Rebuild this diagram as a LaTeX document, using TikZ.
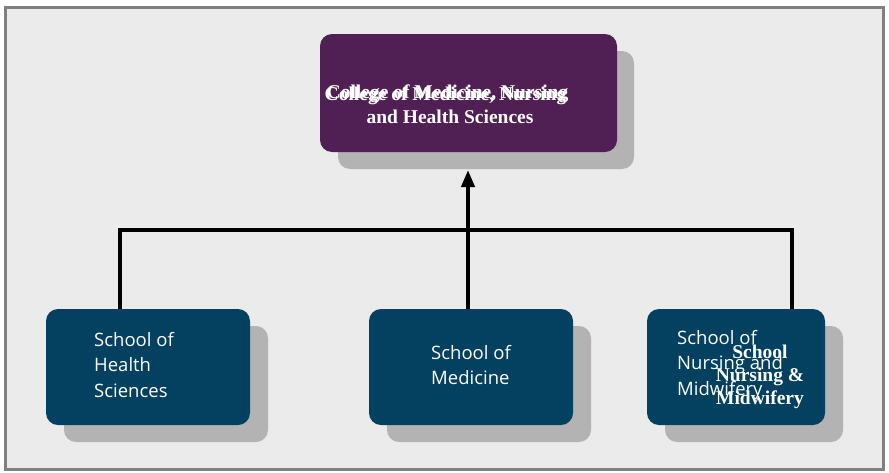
\documentclass[tikz,border=0pt]{standalone}
\usepackage{fontspec}
\setmainfont{Liberation Serif}
\newfontfamily\opensans{Open Sans}
\usetikzlibrary{arrows.meta}
\definecolor{bgc}{HTML}{EBEBEB}
\definecolor{framec}{HTML}{808080}
\definecolor{purplec}{HTML}{501F53}
\definecolor{bluec}{HTML}{04405F}
\definecolor{shadowc}{HTML}{B3B3B3}
\tikzset{
  box/.style={rounded corners=12pt, inner sep=0pt, draw=none},
  topbox/.style={box, fill=purplec},
  schoolbox/.style={box, fill=bluec, minimum height=116pt},
  sanstext/.style={text=white, font=\opensans\fontsize{18.5}{25.5}\selectfont, align=left, inner sep=0pt},
  serifbold/.style={text=white, font=\bfseries\fontsize{19.5}{21}\selectfont, align=center, inner sep=0pt},
  serifboldb/.style={text=white, font=\bfseries\fontsize{19.5}{23}\selectfont, align=center, inner sep=0pt},
  conn/.style={line width=4pt, black},
}
\begin{document}
\begin{tikzpicture}[x=1pt,y=-1pt]
\useasboundingbox (0,0) rectangle (889,472);
\fill[white] (0,0) rectangle (889,472);
\draw[framec, line width=3pt, fill=bgc] (5.5,7.5) rectangle (883.5,469.5);
% shadows
\fill[shadowc, rounded corners=12pt] (338,51) rectangle (634,169);
\fill[shadowc, rounded corners=12pt] (64,326) rectangle (268,442);
\fill[shadowc, rounded corners=12pt] (387,326) rectangle (591,442);
\fill[shadowc, rounded corners=12pt] (665,326) rectangle (843,442);
% boxes
\node[topbox, minimum width=297pt, minimum height=118pt] (top) at (468.5,93) {};
\node[schoolbox, minimum width=204pt] (hs) at (148,367) {};
\node[schoolbox, minimum width=204pt] (med) at (471,367) {};
\node[schoolbox, minimum width=178pt] (nm) at (736,367) {};
% texts
\node[serifbold] (t1a) at (445.5,96) {College of Medicine, Nursing};
\node[serifbold] (t1b) at (447.5,94) {College of Medicine, Nursing};
\node[serifbold] (t2) at (450,117) {and Health Sciences};
\node[sanstext, anchor=west] (hst) at (94,365) {School of\\Health\\Sciences};
\node[sanstext, anchor=west] (medt) at (431,365) {School of\\Medicine};
\node[sanstext, anchor=west] (nmt) at (677,365) {School of\\Nursing and\\Midwifery};
\node[serifboldb] (nmb) at (760,377) {School\\Nursing \&\\Midwifery};
% connectors
\coordinate (bar) at (468,230);
\coordinate (tip) at (468,170);
\draw[conn] (hs.north -| 120,0) -- (120,230) -- (792,230) -- (nm.north -| 792,0);
\draw[conn, -{Triangle[length=17pt,width=13pt]}] (med.north -| bar) -- (tip);
\end{tikzpicture}
\end{document}
